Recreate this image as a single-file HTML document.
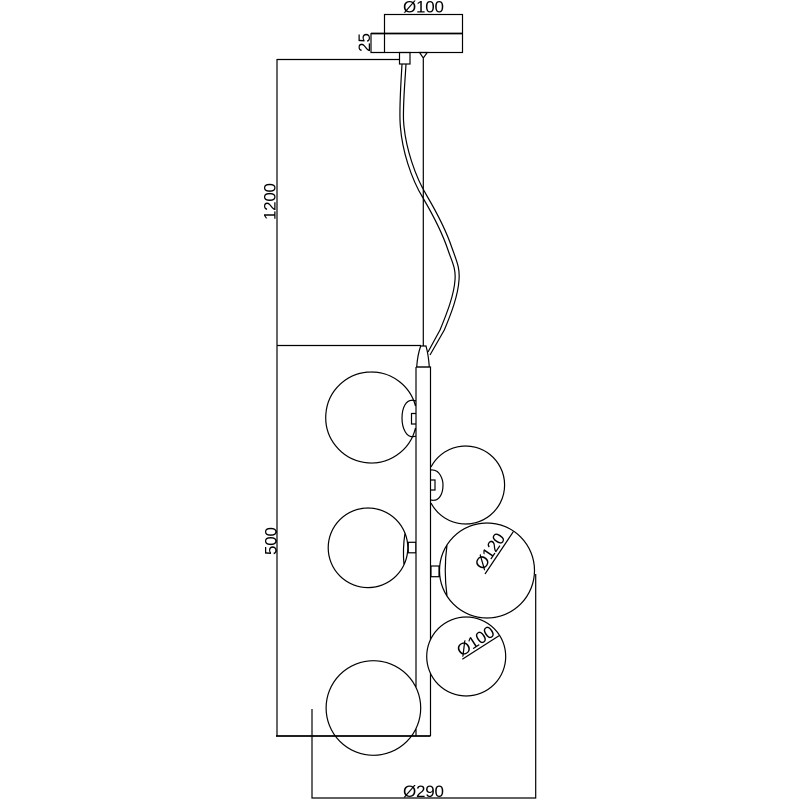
<!DOCTYPE html>
<html><head><meta charset="utf-8"><style>
html,body{margin:0;padding:0;background:#fff}
svg{display:block}
text{font-family:"Liberation Sans",sans-serif;font-size:17px;fill:#000;stroke:none}
</style></head><body>
<svg width="800" height="800" viewBox="0 0 800 800" fill="none" stroke="#000" stroke-width="1.2">
<rect x="384.500" y="14.500" width="78" height="38"/>
<path d="M371 33.500H462.500" stroke-width="1.800"/>
<path d="M371 33V52.500H384.500"/>
<path d="M277 59.500H399.500M277 59V736M277 345.500H421"/>
<rect x="399.500" y="52.500" width="10.500" height="11.500"/>
<path d="M419.500 52.500H427.300L423.300 58ZM423.300 58V346"/>
<path d="M402 64C401 82 399.500 102 400 120C401 150 412 180 423 198C433 215 442 232 448 250C452 262 456 268 455 280C454 295 447 313 440 330L428 352"/>
<path d="M406 64C405 82 403 102 403.500 120C405 148 416 178 427 196C437 213 446 230 452 248C457 262 460 268 459 280C458 296 451 314 444.300 330L430 355"/>
<path d="M420.700 346H426Q428.500 355 429.300 367H416.700Q417.500 355 420.700 346Z"/>
<path d="M416 367H430.500V736M416 367V736"/>
<path d="M371 372A45.500 45.500 0 1 0 415.500 428M415.500 406A45.500 45.500 0 0 0 371 372"/>
<path d="M431 467A39 39 0 1 1 431 503"/>
<circle cx="368" cy="547.800" r="39.800"/>
<circle cx="487" cy="570.500" r="47.500"/>
<circle cx="466.200" cy="656.500" r="39.500" fill="#fff"/>
<circle cx="373.400" cy="708" r="47.300" fill="#fff"/>
<path d="M276 736H430.500" stroke-width="1.800"/>
<path d="M416 401C405 397 402 410 402 418C402 427 406 440 416 436"/>
<path d="M416 413.500H411.500V424H416"/>
<path d="M431 470C440 469 443 480 443 485C443 494 439 502 431 500"/>
<path d="M431 480H435V490H431"/>
<rect x="408.300" y="542.300" width="7.500" height="10.500"/>
<rect x="431" y="566" width="8" height="10.700"/>
<path d="M405 533Q402.500 549 404 565"/>
<path d="M447 545Q443.500 570 447 596"/>
<path d="M312 709V798H535.700V574"/>
<path d="M485 574L513.300 531.700"/>
<path d="M462.300 659.300L499 635.700"/>
<text x="403" y="12.500" textLength="41">Ø100</text>
<text transform="translate(370,52) rotate(-90)" textLength="19">25</text>
<text transform="translate(275.500,220) rotate(-90)" textLength="37">1200</text>
<text transform="translate(276.500,555) rotate(-90)" textLength="28">500</text>
<text x="403" y="797" textLength="41">Ø290</text>
<text transform="translate(483.500,571) rotate(-56)" textLength="40">Ø120</text>
<text transform="translate(461.500,657) rotate(-33)" textLength="41">Ø100</text>
</svg>
</body></html>
